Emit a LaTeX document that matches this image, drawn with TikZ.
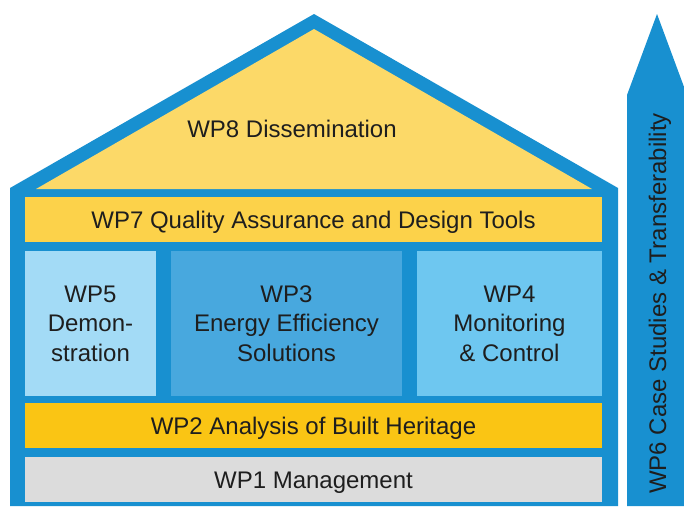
\documentclass[tikz,border=0pt]{standalone}
\usepackage{fontspec}
\setmainfont{Liberation Sans}
\definecolor{houseblue}{RGB}{24,144,208}
\definecolor{roofyellow}{RGB}{252,217,104}
\definecolor{wpsevenyellow}{RGB}{252,210,74}
\definecolor{wptwoyellow}{RGB}{250,197,20}
\definecolor{wponegray}{RGB}{220,220,220}
\definecolor{wpfiveblue}{RGB}{163,219,246}
\definecolor{wpthreeblue}{RGB}{72,168,222}
\definecolor{wpfourblue}{RGB}{110,199,240}
\definecolor{txt}{RGB}{30,30,30}
\tikzset{
  wpbox/.style={rectangle, inner sep=0pt, outer sep=0pt, text=txt,
    font=\fontsize{24}{29.5}\selectfont},
  oneline/.style={wpbox, text height=17.2pt, text depth=0pt},
  multiline/.style={wpbox, align=center},
}
\begin{document}
\begin{tikzpicture}[x=1pt,y=-1pt]
\useasboundingbox (0,0) rectangle (684,506);
\clip (0,0) rectangle (684,506);
\fill[white] (0,0) rectangle (684,506);
% house body and roof
\fill[houseblue] (10,506) -- (10,188) -- (314,14) -- (618,188) -- (618,506) -- cycle;
\fill[roofyellow] (36,189) -- (314,29) -- (592,189) -- cycle;
\node[wpbox, anchor=base] (wp8) at (292,137) {WP8 Dissemination};
% boxes
\node[oneline, fill=wpsevenyellow, minimum width=577pt, minimum height=45pt] (wp7) at (313.5,219.5) {WP7 Quality Assurance and Design Tools};
\node[multiline, fill=wpfiveblue, minimum width=131pt, minimum height=145pt] (wp5) at (90.5,323.5) {WP5\\Demon-\\stration};
\node[multiline, fill=wpthreeblue, minimum width=231pt, minimum height=145pt] (wp3) at (286.5,323.5) {WP3\\Energy Efficiency\\Solutions};
\node[multiline, fill=wpfourblue, minimum width=185pt, minimum height=145pt] (wp4) at (509.5,323.5) {WP4\\Monitoring\\\& Control};
\node[oneline, fill=wptwoyellow, minimum width=577pt, minimum height=45pt] (wp2) at (313.5,425.5) {WP2 Analysis of Built Heritage};
\node[oneline, fill=wponegray, minimum width=577pt, minimum height=45pt] (wp1) at (313.5,479.5) {WP1 Management};
% WP6 arrow
\fill[houseblue] (627,506) -- (627,95) -- (657,14) -- (687,95) -- (687,506) -- cycle;
\node[oneline, rotate=90] (wp6) at (657.5,303.5) {WP6 Case Studies \& Transferability};
\end{tikzpicture}
\end{document}
